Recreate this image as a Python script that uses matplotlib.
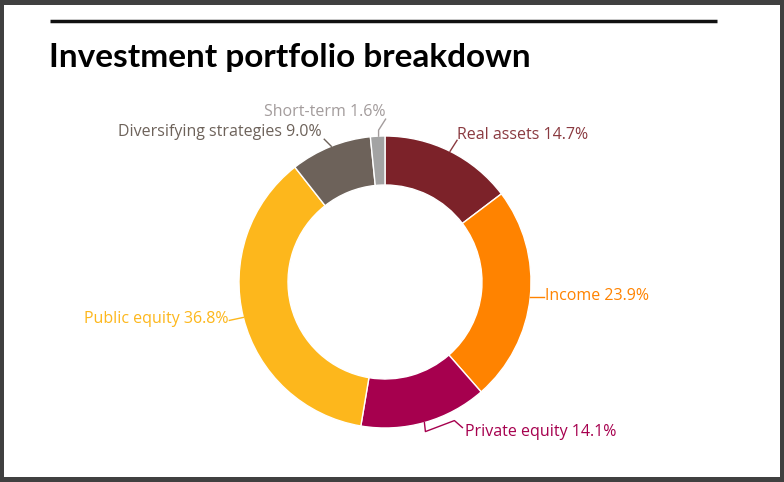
#!/usr/bin/env python3
"""
Donut chart: investment portfolio breakdown.
"""

import numpy as np
import matplotlib
matplotlib.use("Agg")
import matplotlib.pyplot as plt
from matplotlib.patches import Rectangle

# Data
categories = ["Real assets", "Income", "Private equity", "Public equity",
              "Diversifying strategies", "Short-term"]
shares = [14.7, 23.9, 14.1, 36.8, 9.0, 1.6]
wedge_colors = ["#7C2229", "#FF8300", "#A6004E", "#FDB71C", "#6D625A", "#A3A3A3"]
text_colors = ["#8A3A40", "#FF8300", "#A6004E", "#FDB71C", "#6D625A", "#A39C9C"]

W, H = 784, 482
CX, CY = 385, 282          # donut centre (pixels from top)
R_OUT, RING = 146, 49

# label layout: text position (from top), alignment, leader elbows relative to anchor
label_layout = {
    "Real assets":             ((457, 135), "left",  [(7, -11)]),
    "Income":                  ((545, 296), "left",  [(14, 0)]),
    "Private equity":          ((465, 432), "left",  [(1, 9), (30, -2), (38, 5)]),
    "Public equity":           ((229, 319), "right", [(-14, 3)]),
    "Diversifying strategies": ((322, 132), "right", [(-7, -7)]),
    "Short-term":              ((386, 112), "right", [(0, -6), (7, -17)]),
}


def fy(y):
    return H - y


def main():
    plt.rcParams['font.family'] = ['Open Sans', 'DejaVu Sans']
    fig = plt.figure(figsize=(W / 100, H / 100), dpi=100, facecolor="#404040")
    ax = fig.add_axes([0, 0, 1, 1])

    ax.pie(shares, colors=wedge_colors, startangle=90, counterclock=False,
           radius=R_OUT, center=(CX, fy(CY)),
           wedgeprops=dict(width=RING, edgecolor="white", linewidth=1))
    ax.set_xlim(0, W)
    ax.set_ylim(0, H)
    ax.set_aspect("auto")
    ax.axis("off")

    # white panel inside the dark frame
    ax.add_patch(Rectangle((4, fy(477)), 776, 472, facecolor="white",
                           edgecolor="none", zorder=-5))

    # top rule and title
    ax.plot([50, 717], [fy(21), fy(21)], color="#111111", lw=2.5,
            solid_capstyle="butt")
    ax.text(49, fy(58), "Investment portfolio breakdown", fontsize=24,
            fontweight="bold", family=["Lato", "DejaVu Sans"],
            color="black", ha="left", va="center")

    # labels with leader lines
    cum = np.cumsum([0] + shares[:-1])
    for cat, val, start, col in zip(categories, shares, cum, text_colors):
        mid = np.deg2rad(90 - (start + val / 2) * 3.6)
        ax_x = CX + R_OUT * np.cos(mid)
        ax_y = CY - R_OUT * np.sin(mid)
        (tx, ty), ha, elbows = label_layout[cat]
        xs = [ax_x] + [ax_x + dx for dx, dy in elbows]
        ys = [ax_y] + [ax_y + dy for dx, dy in elbows]
        ax.plot(xs, [fy(v) for v in ys], color=col, lw=1)
        ax.text(tx, fy(ty), f"{cat} {val:.1f}%", color=col, fontsize=11.5,
                ha=ha, va="center")

    fig.savefig("out.png", dpi=100, facecolor=fig.get_facecolor())


if __name__ == "__main__":
    main()
